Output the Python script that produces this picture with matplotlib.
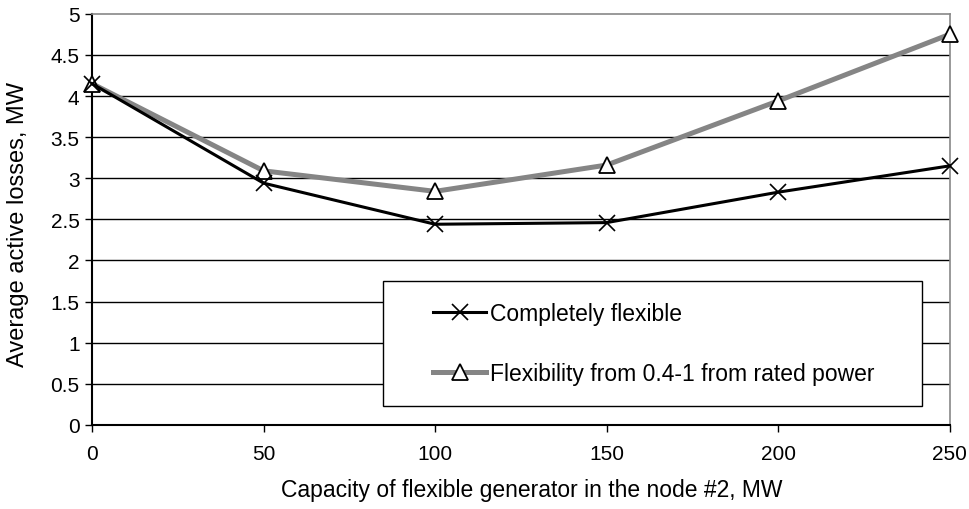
import matplotlib
matplotlib.use('Agg')
import matplotlib.pyplot as plt
from matplotlib.patches import Rectangle

plt.rcParams['font.family'] = ['Liberation Sans', 'DejaVu Sans']

capacity = [0, 50, 100, 150, 200, 250]
completely_flexible = [4.15, 2.94, 2.44, 2.46, 2.83, 3.15]
partly_flexible = [4.15, 3.09, 2.84, 3.16, 3.94, 4.75]
labels = ['Completely flexible', 'Flexibility from 0.4-1 from rated power']
y_ticks = [0, 0.5, 1, 1.5, 2, 2.5, 3, 3.5, 4, 4.5, 5]
y_tick_labels = ['0', '0.5', '1', '1.5', '2', '2.5', '3', '3.5', '4', '4.5', '5']

fig = plt.figure(figsize=(9.69, 5.10), dpi=100)
ax = fig.add_axes([0.095, 0.165, 0.885, 0.806])

for y in y_ticks[1:-1]:
    ax.axhline(y, color='black', lw=1.0, zorder=1)

ax.plot(capacity, completely_flexible, color='black', lw=2.2, marker='x',
        markersize=12, markeredgewidth=1.2, markeredgecolor='black',
        label=labels[0], zorder=4, clip_on=False)
ax.plot(capacity, partly_flexible, color='#858585', lw=3.6, marker='^',
        markersize=12, markeredgewidth=1.3, markerfacecolor='white',
        markeredgecolor='black', label=labels[1], zorder=3, clip_on=False)

ax.set_xlim(0, 250)
ax.set_ylim(0, 5)
ax.set_xticks(capacity)
ax.set_yticks(y_ticks)
ax.set_yticklabels(y_tick_labels)
ax.tick_params(direction='out', length=5, width=1, labelsize=15, pad=9)
ax.tick_params(axis='y', pad=4)

for side in ['top', 'right']:
    ax.spines[side].set_color('#888888')
    ax.spines[side].set_linewidth(1.2)
for side in ['left', 'bottom']:
    ax.spines[side].set_color('black')
    ax.spines[side].set_linewidth(1.5)

ax.set_xlabel('Capacity of flexible generator in the node #2, MW', fontsize=16.5)
ax.xaxis.set_label_coords(0.513, -0.13)
ax.set_ylabel('Average active losses, MW', fontsize=17)
ax.yaxis.set_label_coords(-0.074, 0.49)

box = Rectangle((0.339, 0.046), 0.629, 0.304, transform=ax.transAxes,
                facecolor='white', edgecolor='black', lw=1.0, zorder=5)
ax.add_patch(box)
leg = ax.legend(loc='center left', bbox_to_anchor=(0.398, 0.198), frameon=False,
                fontsize=16.5, handlelength=2.3, handletextpad=0.15, labelspacing=1.6,
                borderaxespad=0, borderpad=0)
leg.set_zorder(6)

fig.savefig('out.png', dpi=100)
